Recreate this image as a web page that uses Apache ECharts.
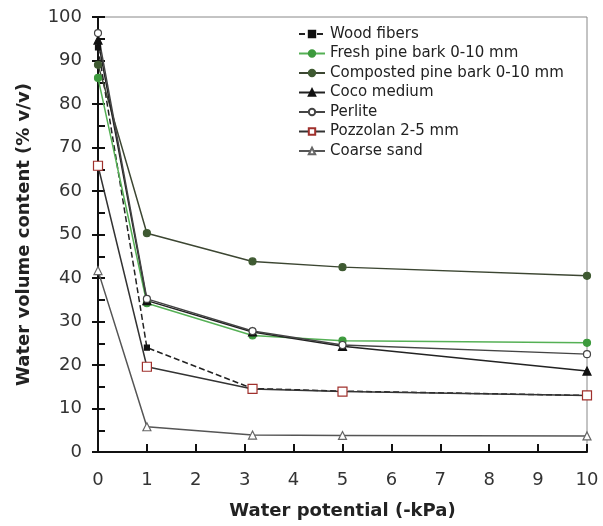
<!DOCTYPE html>
<html>
<head>
<meta charset="utf-8">
<script src="https://cdn.jsdelivr.net/npm/echarts@6/dist/echarts.min.js"></script>
<style>
  html, body { margin: 0; padding: 0; background: #fff; }
  #chart { width: 603px; height: 526px; }
</style>
</head>
<body>
<div id="chart"></div>
<script>
// water potential (-kPa) where the curves were measured
var potentials = [0, 1, 3.16, 5, 10];

var woodFibers = [93, 24, 14.6, 14, 13];
var freshBark = [86, 34.2, 26.8, 25.6, 25.1];
var compostedBark = [89, 50.3, 43.8, 42.5, 40.5];
var cocoMedium = [94.7, 34.8, 27.6, 24.3, 18.6];
var perlite = [96.3, 35.2, 27.8, 24.6, 22.5];
var pozzolan = [65.8, 19.6, 14.5, 13.9, 13];
var coarseSand = [41.7, 5.8, 3.9, 3.8, 3.7];

var xTicks = [0, 1, 2, 3, 4, 5, 6, 7, 8, 9, 10];

function pairs(vals) {
    return potentials.map(function (p, i) { return [p, vals[i]]; });
}

var myChart = echarts.init(document.getElementById('chart'));

function line(name, vals, color, symbol, size, fill, border, dashed) {
    return {
        name: name,
        type: 'line',
        data: pairs(vals),
        symbol: symbol,
        symbolSize: size,
        showAllSymbol: true,
        lineStyle: { color: color, width: 1.5, type: dashed ? [6, 3] : 'solid' },
        itemStyle: { color: fill, borderColor: border, borderWidth: 1.2 },
        emphasis: { disabled: true },
        z: 3
    };
}

var font = 'DejaVu Sans, Verdana, sans-serif';

var option = {
    animation: false,
    backgroundColor: '#fff',
    textStyle: { fontFamily: font },
    grid: {
        left: 98, right: 16, top: 17, bottom: 74,
        show: true, borderColor: '#888', borderWidth: 1
    },
    legend: {
        orient: 'vertical',
        left: 298, top: 26.5, padding: 0,
        itemWidth: 26, itemHeight: 8, itemGap: 4.5,
        textStyle: { fontSize: 15, lineHeight: 15, color: '#222' },
        data: ['Wood fibers', 'Fresh pine bark 0-10 mm', 'Composted pine bark 0-10 mm',
               'Coco medium', 'Perlite', 'Pozzolan 2-5 mm', 'Coarse sand']
    },
    xAxis: {
        type: 'value', min: 0, max: 10, interval: 1,
        name: 'Water potential (-kPa)', nameLocation: 'middle', nameGap: 50,
        nameTextStyle: { fontSize: 18, fontWeight: 'bold', color: '#222', fontFamily: font },
        axisLine: { lineStyle: { color: '#111', width: 2 } },
        axisTick: { inside: true, length: 8, lineStyle: { color: '#111', width: 2 } },
        axisLabel: { fontSize: 18, color: '#333', margin: 19, fontFamily: font,
            formatter: function (v) { return xTicks.indexOf(v) >= 0 ? String(v) : ''; } },
        splitLine: { show: false }
    },
    yAxis: [{
        type: 'value', min: 0, max: 100, interval: 10,
        name: 'Water volume content (% v/v)', nameLocation: 'middle', nameGap: 65,
        nameTextStyle: { fontSize: 18, fontWeight: 'bold', color: '#222', fontFamily: font },
        axisLine: { lineStyle: { color: '#111', width: 2 } },
        axisTick: { inside: true, length: 7, lineStyle: { color: '#111', width: 2 } },
        minorTick: { show: true, splitNumber: 2, length: 7, lineStyle: { color: '#111', width: 2 } },
        axisLabel: { fontSize: 18, color: '#333', margin: 16, fontFamily: font },
        splitLine: { show: false }
    }, {
        type: 'value', min: 0, max: 100, interval: 10, position: 'left',
        axisLine: { show: true, lineStyle: { color: '#111', width: 2 } },
        axisTick: { show: true, inside: false, length: 6, lineStyle: { color: '#111', width: 2 } },
        axisLabel: { show: false },
        splitLine: { show: false }
    }],
    series: [
        line('Wood fibers', woodFibers, '#222', 'rect', 5, '#111', '#111', true),
        line('Fresh pine bark 0-10 mm', freshBark, '#55b055', 'circle', 7, '#3d9a3d', '#3d9a3d', false),
        line('Composted pine bark 0-10 mm', compostedBark, '#3c4632', 'circle', 7, '#3f5a32', '#3f5a32', false),
        line('Coco medium', cocoMedium, '#222', 'triangle', 8, '#111', '#111', false),
        line('Perlite', perlite, '#444', 'circle', 7, '#fff', '#444', false),
        line('Pozzolan 2-5 mm', pozzolan, '#333', 'rect', 9, '#fff', '#a0302c', false),
        line('Coarse sand', coarseSand, '#555', 'triangle', 8, '#fff', '#666', false)
    ]
};

myChart.setOption(option);
</script>
</body>
</html>
